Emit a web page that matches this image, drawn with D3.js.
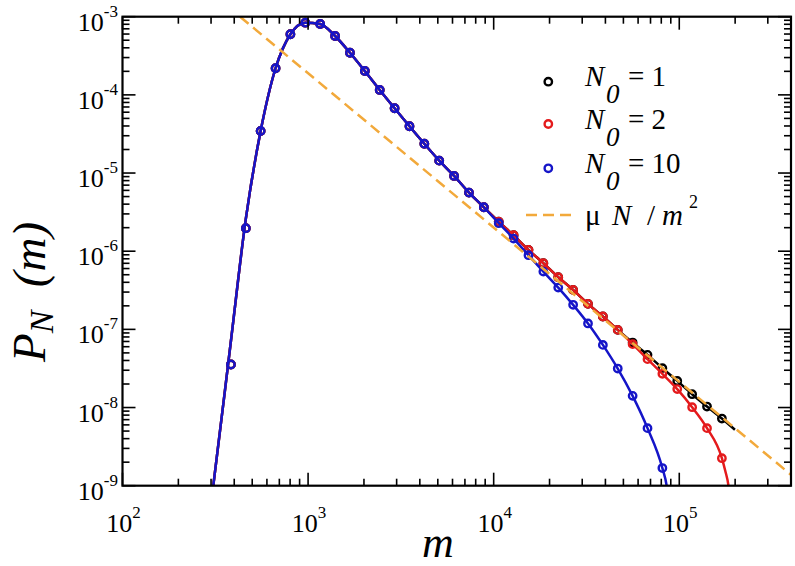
<!DOCTYPE html>
<html>
<head>
<meta charset="utf-8">
<script src="https://cdn.jsdelivr.net/npm/d3@7"></script>
</head>
<body style="margin:0">
<svg id="chart" width="795" height="566"></svg>
<script>
// ---------------- data ----------------
const mGrid = [384, 462, 555, 668, 803, 966, 1162, 1398, 1681, 2022, 2432, 2925, 3518, 4231,
  5089, 6120, 7361, 8853, 10648, 12806, 15402, 18524, 22279, 26795, 32227, 38760, 46617,
  56066, 67432, 81101, 97541, 117313, 141093, 169694];

// N0 = 10 (blue) simulation points
const pN10 = [3.55e-8, 1.97e-6, 3.45e-5, 2.19e-4, 5.96e-4, 8.38e-4, 8.07e-4, 5.66e-4, 3.46e-4,
  2.02e-4, 1.155e-4, 6.74e-5, 3.97e-5, 2.37e-5, 1.44e-5, 9.18e-6, 5.62e-6, 3.65e-6, 2.28e-6,
  1.45e-6, 8.89e-7, 5.48e-7, 3.42e-7, 2.06e-7, 1.19e-7, 6.33e-8, 3.15e-8, 1.41e-8, 5.45e-9, 1.68e-9];

// N0 = 2 (red) simulation points
const pN2 = [3.55e-8, 1.97e-6, 3.45e-5, 2.19e-4, 5.96e-4, 8.38e-4, 8.07e-4, 5.66e-4, 3.46e-4,
  2.02e-4, 1.155e-4, 6.74e-5, 3.97e-5, 2.37e-5, 1.44e-5, 9.18e-6, 5.62e-6, 3.65e-6, 2.39e-6,
  1.60e-6, 1.04e-6, 7.02e-7, 4.65e-7, 3.20e-7, 2.12e-7, 1.46e-7, 9.85e-8, 6.47e-8, 4.16e-8,
  2.70e-8, 1.72e-8, 1.01e-8, 5.45e-9, 2.25e-9];

// N0 = 1 (black) simulation points
const pN1 = [3.55e-8, 1.97e-6, 3.45e-5, 2.19e-4, 5.96e-4, 8.38e-4, 8.07e-4, 5.66e-4, 3.46e-4,
  2.02e-4, 1.155e-4, 6.74e-5, 3.97e-5, 2.37e-5, 1.44e-5, 9.18e-6, 5.62e-6, 3.65e-6, 2.39e-6,
  1.60e-6, 1.04e-6, 7.02e-7, 4.65e-7, 3.20e-7, 2.12e-7, 1.46e-7, 9.85e-8, 6.78e-8, 4.72e-8,
  3.19e-8, 2.19e-8, 1.48e-8, 1.03e-8, 7.23e-9];

// theory curves: shared rising head, then through the points, then each tail
const lineHead = [[301.7, 6.6e-10], [308.5, 1.0e-9], [384, 7.15e-8], [462, 2.61e-6]];
const tailN10 = [[85530, 1.0e-9], [87460, 6.6e-10]];
const tailN2 = [[176900, 1.55e-9], [184100, 1.0e-9], [187600, 6.6e-10]];
const tailN1 = [[199500, 5.19e-9]];

// mu N / m^2 dashed line (end points)
const powerLaw = [[430, 1.0e-3], [4.0e5, 1.38e-9]];

const xMajor = [1e2, 1e3, 1e4, 1e5];
const xExponents = ["2", "3", "4", "5"];
const yMajor = [1e-9, 1e-8, 1e-7, 1e-6, 1e-5, 1e-4, 1e-3];
const yExponents = ["-9", "-8", "-7", "-6", "-5", "-4", "-3"];

const legendValues = ["1", "2", "10"];
const seriesColors = ["#000000", "#e41a1c", "#1515c8"];
const dashColor = "#f2a93b";

// ---------------- drawing ----------------
const svg = d3.select("#chart");
const L = 122.5, R = 791, T = 16.7, B = 485.7;
const x = d3.scaleLog().domain([1e2, 4e5]).range([L, R]);
const y = d3.scaleLog().domain([1e-9, 1e-3]).range([B, T]);

function txt(parent) {
  return parent.append("text").attr("font-family", "Liberation Serif")
    .style("font-family", "'Liberation Serif'");
}

svg.append("rect").attr("width", 795).attr("height", 566).attr("fill", "#fff");

svg.append("defs").append("clipPath").attr("id", "clip")
  .append("rect").attr("x", L).attr("y", T).attr("width", R - L).attr("height", B - T);

const plot = svg.append("g").attr("clip-path", "url(#clip)");

const line = d3.line().x(d => x(d[0])).y(d => y(d[1])).curve(d3.curveMonotoneX);

function pts(arr) { return arr.map((p, i) => [mGrid[i], p]); }
function theory(arr, tail) {
  return lineHead.concat(arr.slice(2).map((p, i) => [mGrid[i + 2], p]), tail);
}

const series = [
  { pts: pts(pN1), line: theory(pN1, tailN1), color: seriesColors[0] },
  { pts: pts(pN2), line: theory(pN2, tailN2), color: seriesColors[1] },
  { pts: pts(pN10), line: theory(pN10, tailN10), color: seriesColors[2] }
];

series.forEach(s => {
  plot.append("path").attr("d", line(s.line))
    .attr("fill", "none").attr("stroke", s.color).attr("stroke-width", 2.5);
  plot.append("g").selectAll("circle").data(s.pts).join("circle")
    .attr("cx", d => x(d[0])).attr("cy", d => y(d[1])).attr("r", 3.7)
    .attr("fill", "none").attr("stroke", s.color).attr("stroke-width", 2.4);
});

plot.append("path").attr("d", d3.line().x(d => x(d[0])).y(d => y(d[1]))(powerLaw))
  .attr("fill", "none").attr("stroke", dashColor).attr("stroke-width", 2.5)
  .attr("stroke-dasharray", "11,6");

// ---------------- axes / frame ----------------
const xMinor = [];
xMajor.forEach(d => { for (let k = 2; k <= 9; k++) if (d * k < 4e5) xMinor.push(d * k); });
const yMinor = [];
yMajor.slice(0, -1).forEach(d => { for (let k = 2; k <= 9; k++) yMinor.push(d * k); });

const tk = svg.append("g").attr("stroke", "#000").attr("stroke-width", 1.6);
function xTicks(vals, len) {
  vals.forEach(v => {
    tk.append("line").attr("x1", x(v)).attr("x2", x(v)).attr("y1", B).attr("y2", B - len);
    tk.append("line").attr("x1", x(v)).attr("x2", x(v)).attr("y1", T).attr("y2", T + len);
  });
}
function yTicks(vals, len) {
  vals.forEach(v => {
    tk.append("line").attr("y1", y(v)).attr("y2", y(v)).attr("x1", L).attr("x2", L + len);
    tk.append("line").attr("y1", y(v)).attr("y2", y(v)).attr("x1", R).attr("x2", R - len);
  });
}
xTicks(xMajor, 13); xTicks(xMinor, 7);
yTicks(yMajor, 13); yTicks(yMinor, 7);

svg.append("rect").attr("x", L).attr("y", T).attr("width", R - L).attr("height", B - T)
  .attr("fill", "none").attr("stroke", "#000").attr("stroke-width", 2.2);

// tick labels
xMajor.forEach((v, i) => {
  const t = txt(svg).attr("x", x(v) + 1).attr("y", 532)
    .attr("text-anchor", "middle").attr("font-size", 26);
  t.append("tspan").text("10");
  t.append("tspan").attr("font-size", 17).attr("dy", -14).text(xExponents[i]);
});
yMajor.forEach((v, i) => {
  const t = txt(svg).attr("x", 118).attr("y", y(v) + 14)
    .attr("text-anchor", "end").attr("font-size", 26);
  t.append("tspan").text("10");
  t.append("tspan").attr("font-size", 17).attr("dy", -14).text(yExponents[i]);
});

// axis titles
txt(svg).attr("x", 438).attr("y", 557).attr("text-anchor", "middle")
  .attr("font-size", 44).attr("font-style", "italic").text("m");

const yt = txt(svg).attr("transform", "translate(45,292) rotate(-90)")
  .attr("text-anchor", "middle").attr("font-size", 47).attr("font-style", "italic");
yt.append("tspan").text("P");
yt.append("tspan").attr("font-size", 34).attr("dy", 8).text("N");
yt.append("tspan").attr("dy", -8).text("\u00a0\u00a0(m)");

// ---------------- legend ----------------
const legY = [81.7, 124, 168.3];
series.forEach((s, i) => {
  svg.append("circle").attr("cx", 548.3).attr("cy", legY[i]).attr("r", 3.7)
    .attr("fill", "none").attr("stroke", s.color).attr("stroke-width", 2.4);
  const t = txt(svg).attr("y", legY[i] + 4.5).attr("font-size", 29);
  t.append("tspan").attr("x", 585).attr("font-style", "italic").text("N");
  t.append("tspan").attr("x", 606).attr("dy", 17).attr("font-style", "italic").attr("font-size", 27).text("0");
  t.append("tspan").attr("x", 628).attr("dy", -17).text("= " + legendValues[i]);
});
svg.append("line").attr("x1", 526).attr("x2", 571).attr("y1", 215).attr("y2", 215)
  .attr("stroke", dashColor).attr("stroke-width", 2.5).attr("stroke-dasharray", "11,6");
const lt = txt(svg).attr("y", 225).attr("font-size", 29);
lt.append("tspan").attr("x", 585).text("\u03bc");
lt.append("tspan").attr("x", 612).attr("font-style", "italic").text("N");
lt.append("tspan").attr("x", 647).text("/");
lt.append("tspan").attr("x", 662).attr("font-style", "italic").text("m");
lt.append("tspan").attr("x", 689).attr("dy", -17).attr("font-size", 18).text("2");
</script>
</body>
</html>
